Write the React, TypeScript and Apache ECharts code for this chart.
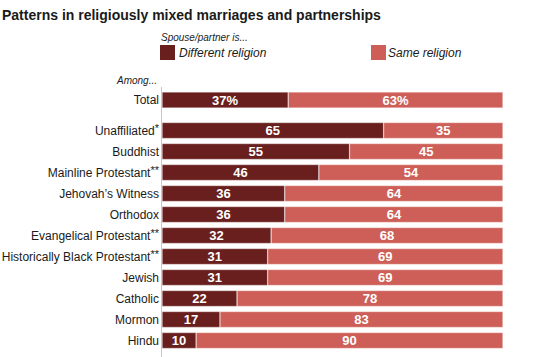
import React, { useEffect, useRef } from "react";
import * as echarts from "echarts";

const categories = [
  "Unaffiliated",
  "Buddhist",
  "Mainline Protestant",
  "Jehovah\u2019s Witness",
  "Orthodox",
  "Evangelical Protestant",
  "Historically Black Protestant",
  "Jewish",
  "Catholic",
  "Mormon",
  "Hindu",
];
const notes = ["*", "", "**", "", "", "**", "**", "", "", "", ""];
const differentReligion = [65, 55, 46, 36, 36, 32, 31, 31, 22, 17, 10];
const sameReligion = [35, 45, 54, 64, 64, 68, 69, 69, 78, 83, 90];
const totalCategory = ["Total"];
const totalDifferent = [37];
const totalSame = [63];

const DARK = "#6a1f1f";
const LIGHT = "#cd5f58";
const FONT = "'Liberation Sans', Arial, Helvetica, sans-serif";
const TEXT = "#1a1a1a";

export default function App() {
  const ref = useRef<HTMLDivElement>(null);
  useEffect(() => {
    if (!ref.current) return;
    const chart = echarts.init(ref.current, null, { renderer: "svg" });
    const label = (suffix: string) => ({
      show: true,
      position: "inside",
      color: "#fff",
      fontWeight: "bold",
      fontSize: 13,
      fontFamily: FONT,
      formatter: (p: any) => `${p.value}${suffix}`,
    });
    const border = { borderColor: "rgba(255,255,255,0.45)", borderWidth: 0.6 };
    const axisLabelBase = {
      color: TEXT,
      fontSize: 12,
      fontFamily: FONT,
      margin: 3,
    };
    const txt = (
      text: string,
      x: number,
      y: number,
      font: string,
      align: string = "left"
    ) => ({
      type: "text",
      x,
      y,
      style: { text, font, fill: TEXT, align, verticalAlign: "middle" },
    });
    chart.setOption({
      animation: false,
      textStyle: { fontFamily: FONT },
      grid: [
        { left: 162, right: 47, top: 91.5, height: 17, containLabel: false, outerBoundsMode: "none" },
        { left: 162, right: 47, top: 120, height: 231, containLabel: false, outerBoundsMode: "none" },
      ],
      xAxis: [
        { gridIndex: 0, type: "value", min: 0, max: 100, show: false },
        { gridIndex: 1, type: "value", min: 0, max: 100, show: false },
      ],
      yAxis: [
        {
          gridIndex: 0,
          type: "category",
          data: totalCategory,
          inverse: true,
          axisLine: { show: false },
          axisTick: { show: false },
          axisLabel: axisLabelBase,
        },
        {
          gridIndex: 1,
          type: "category",
          data: categories,
          inverse: true,
          axisLine: { show: false },
          axisTick: { show: false },
          axisLabel: {
            ...axisLabelBase,
            formatter: (v: string, i: number) =>
              notes[i] ? `{m|${v}}{s|${notes[i]}}` : `{m|${v}}`,
            rich: {
              m: { fontSize: 12, fontFamily: FONT, color: TEXT, lineHeight: 14 },
              s: {
                fontSize: 11,
                fontFamily: FONT,
                color: TEXT,
                padding: [0, 0, 5, 0],
                lineHeight: 11,
              },
            },
          },
        },
      ],
      series: [
        {
          type: "bar",
          stack: "t",
          xAxisIndex: 0,
          yAxisIndex: 0,
          data: totalDifferent,
          barWidth: 16,
          itemStyle: { color: DARK, ...border },
          label: label("%"),
        },
        {
          type: "bar",
          stack: "t",
          xAxisIndex: 0,
          yAxisIndex: 0,
          data: totalSame,
          barWidth: 16,
          itemStyle: { color: LIGHT, ...border },
          label: label("%"),
        },
        {
          type: "bar",
          stack: "g",
          xAxisIndex: 1,
          yAxisIndex: 1,
          data: differentReligion,
          barWidth: 16,
          itemStyle: { color: DARK, ...border },
          label: label(""),
        },
        {
          type: "bar",
          stack: "g",
          xAxisIndex: 1,
          yAxisIndex: 1,
          data: sameReligion,
          barWidth: 16,
          itemStyle: { color: LIGHT, ...border },
          label: label(""),
        },
      ],
      graphic: [
        txt(
          "Patterns in religiously mixed marriages and partnerships",
          2,
          15,
          `bold 14px ${FONT}`
        ),
        txt("Spouse/partner is...", 161, 37.5, `italic 10px ${FONT}`),
        {
          type: "rect",
          shape: { x: 160, y: 45, width: 15, height: 15 },
          style: { fill: DARK },
        },
        txt("Different religion", 179, 52.5, `italic 12px ${FONT}`),
        {
          type: "rect",
          shape: { x: 371, y: 45, width: 15, height: 15 },
          style: { fill: LIGHT },
        },
        txt("Same religion", 388, 52.5, `italic 12px ${FONT}`),
        txt("Among...", 157, 80, `italic 10px ${FONT}`, "right"),
        {
          type: "line",
          shape: { x1: 161.5, y1: 87, x2: 161.5, y2: 357 },
          style: { stroke: "#c8c8c8", lineWidth: 1 },
        },
      ],
    });
    return () => chart.dispose();
  }, []);
  return (
    <div
      ref={ref}
      style={{ position: "absolute", left: 0, top: 0, width: 550, height: 357 }}
    />
  );
}
